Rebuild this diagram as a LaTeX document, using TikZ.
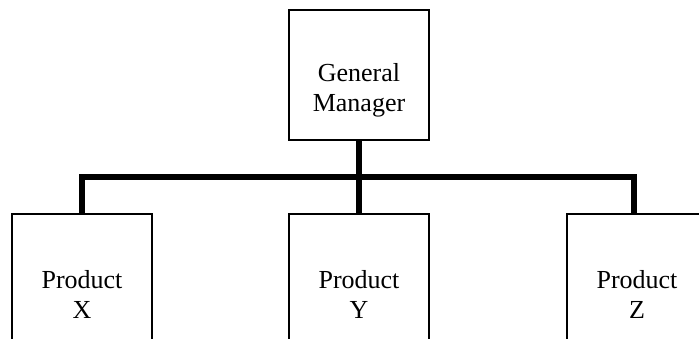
\documentclass[tikz,border=0pt]{standalone}
\usepackage{fontspec}
\setmainfont{Liberation Serif}
\begin{document}
\begin{tikzpicture}[x=1pt,y=-1pt,
  unit/.style={draw=black,line width=1.6pt,minimum width=140pt,inner sep=0pt,outer sep=0pt,rectangle},
  lbl/.style={anchor=base,inner sep=0pt,font=\fontsize{26}{30}\selectfont},
  bus/.style={line width=6pt,line join=miter,line cap=butt}]
  \useasboundingbox (0,0) rectangle (699,339);
  \clip (0,0) rectangle (699,339);
  % top unit
  \node[unit,minimum height=130pt] (gm) at (359,75) {};
  \node[lbl] (gm1) at (359,82) {General};
  \node[lbl] (gm2) at (359,112) {Manager};
  % product units (open towards the lower edge)
  \node[unit,minimum height=160pt] (px) at (82,294) {};
  \node[unit,minimum height=160pt] (py) at (359,294) {};
  \node[unit,minimum height=160pt] (pz) at (637,294) {};
  \node[lbl] (px1) at (82,288) {Product};
  \node[lbl] (px2) at (82,318) {X};
  \node[lbl] (py1) at (359,288) {Product};
  \node[lbl] (py2) at (359,318) {Y};
  \node[lbl] (pz1) at (637,288) {Product};
  \node[lbl] (pz2) at (637,318) {Z};
  % reporting lines
  \coordinate (busl) at (82,177);
  \coordinate (busr) at (634,177);
  \draw[bus] (gm.south) -- (py.north);
  \draw[bus] (px.north) -- (busl) -- (busr) -- (busr |- pz.north);
\end{tikzpicture}
\end{document}
